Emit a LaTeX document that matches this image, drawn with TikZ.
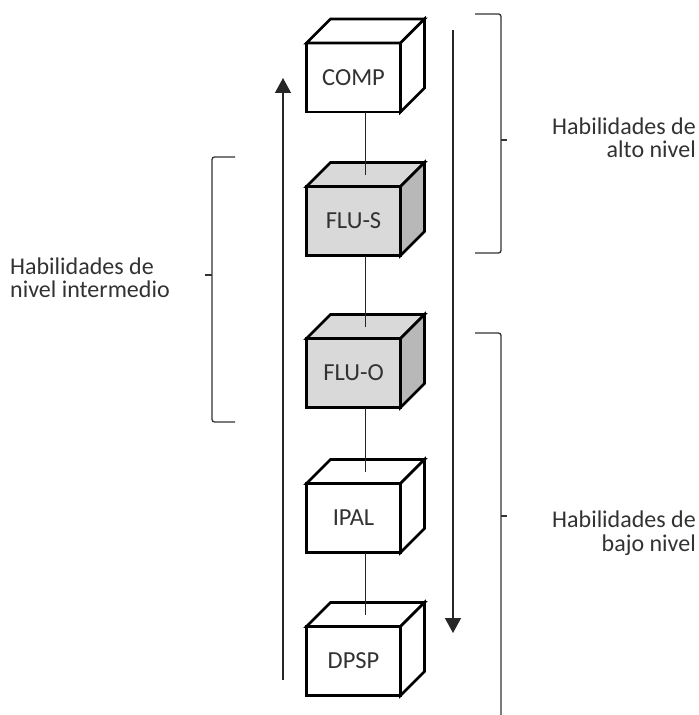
\documentclass[tikz,border=0pt]{standalone}
\usepackage{fontspec}
\setmainfont{Carlito}
\usetikzlibrary{arrows.meta, calc}
\definecolor{grisCara}{RGB}{217,217,217}
\definecolor{grisLado}{RGB}{184,184,184}
\definecolor{tinta}{RGB}{50,50,50}
\tikzstyle{cara} = [rectangle, draw=black, line width=2.6bp, outer sep=0pt, minimum width=94bp, minimum height=69bp, anchor=north west, text=tinta, font=\fontsize{24.5bp}{28bp}\selectfont]
\tikzstyle{tapa} = [draw=black, line width=2.6bp]
\tikzstyle{flecha} = [line width=1.3bp, draw=black!85, -{Triangle[width=16bp,length=15bp]}]
\tikzstyle{conector} = [line width=1.3bp, draw=black!85]
\tikzstyle{llave} = [line width=1.3bp, draw=tinta, rounded corners=2.5bp]
\tikzstyle{rotulo} = [text=tinta, inner sep=0pt, font=\fontsize{24bp}{23.5bp}\selectfont]

\begin{document}
\begin{tikzpicture}[x=1bp, y=-1bp]
\useasboundingbox (0,0) rectangle (699,715);

% flechas de subida y bajada
\coordinate (subeIni) at (283,680);
\coordinate (subeFin) at (283,78);
\coordinate (bajaIni) at (453,30);
\coordinate (bajaFin) at (453,633);
\draw[flecha] (subeIni) -- (subeFin);
\draw[flecha] (bajaIni) -- (bajaFin);

% cubos
\foreach \nm/\y/\txt/\fc/\lc in {comp/43/COMP/white/white, flus/186.5/FLU-S/grisCara/grisLado, fluo/338.5/FLU-O/grisCara/grisLado, ipal/483.5/IPAL/white/white, dpsp/626.5/DPSP/white/white}{
  \node[cara, fill=\fc] (\nm) at (306.5,\y) {\txt};
  \draw[tapa, fill=\fc] (\nm.north west) -- ++(24,-24) -- ++(94,0) -- (\nm.north east) -- cycle;
  \draw[tapa, fill=\lc] (\nm.north east) -- ++(24,-24) -- ++(0,69) -- (\nm.south east) -- cycle;
}

\foreach \a/\b in {comp/flus, flus/fluo, fluo/ipal, ipal/dpsp}
  \draw[conector] ($(\a.south)+(12,0)$) -- ($(\b.north)+(12,-12)$);

% corchetes
\draw[llave] (235,157) -- (212,157) -- (212,422) -- (235,422);
\draw[llave] (212,275) -- (205,275);
\draw[llave] (475,14) -- (501,14) -- (501,253) -- (475,253);
\draw[llave] (501,140) -- (507,140);
\draw[llave] (475,333) -- (501,333) -- (501,716);
\draw[llave] (501,516) -- (507,516);

% rotulos
\node[rotulo, anchor=west, align=left] (intermedio) at (10,278) {Habilidades de\\nivel intermedio};
\node[rotulo, anchor=east, align=right] (alto) at (696,138) {Habilidades de\\alto nivel};
\node[rotulo, anchor=east, align=right] (bajo) at (696,533) {Habilidades de\\bajo nivel};
\end{tikzpicture}
\end{document}
